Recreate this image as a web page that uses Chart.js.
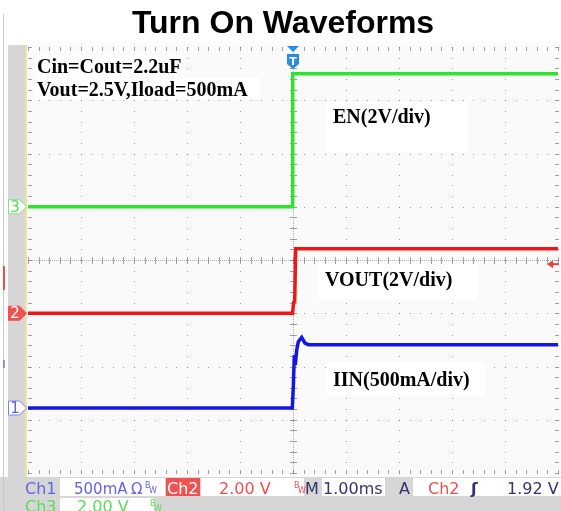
<!DOCTYPE html>
<html>
<head>
<meta charset="utf-8">
<script src="https://cdn.jsdelivr.net/npm/chart.js@4.4.1/dist/chart.umd.min.js"></script>
<style>
  html, body { margin: 0; padding: 0; background: #ffffff; }
  canvas { display: block; }
</style>
</head>
<body>
<canvas id="scope" width="561" height="511"></canvas>
<script>
// Horizontal: 1.00 ms/div, 10 divisions, trigger at centre
const timeRangeMs = [-5, 5];
const verticalDivs = [-4, 4];

// Ch3 - EN (2 V/div)
const enTimeMs = [-5, -0.012, -0.006, 5];
const enVolts  = [0, 0, 5.0, 5.0];

// Ch2 - VOUT (2 V/div)
const voutTimeMs = [-5, -0.008, 0.012, 0.032, 0.05, 5];
const voutVolts  = [0, 0, 0.41, 0.45, 2.42, 2.42];

// Ch1 - IIN (500 mA/div)
const iinTimeMs    = [-5, -0.013, 0.006, 0.025, 0.043, 0.07, 0.1, 0.164, 0.226, 0.29, 5];
const iinMilliamps = [0, 0, 200, 498, 404, 545, 623, 664, 610, 595, 595];

// Ground markers (divisions from centre) and scale per division: Ch1, Ch2, Ch3
const channelOffsetDiv = [-2.78, -1, 1];
const channelPerDiv    = [500, 2, 2];
const triggerLevelVolts = 1.92;

const traceColors = ['rgb(22,22,228)', 'rgb(238,22,22)', 'rgb(44,228,44)'];

function channelAxis(ch) {
  const off = channelOffsetDiv[ch], per = channelPerDiv[ch];
  return { type: 'linear', display: false,
           min: (verticalDivs[0] - off) * per, max: (verticalDivs[1] - off) * per };
}

function pts(xs, ys) { return xs.map((t, i) => ({ x: t, y: ys[i] })); }

const SANS = '"DejaVu Sans", "Liberation Sans", sans-serif';
const SERIF = '"Liberation Serif", "DejaVu Serif", serif';

function drawGrid(chart) {
  const { ctx, chartArea: a, scales } = chart;
  const xs = scales.x, yd = scales.yDiv;
  const px = v => Math.round(xs.getPixelForValue(v));
  const py = v => Math.round(yd.getPixelForValue(v));

  // whole page, left strip, status bar
  ctx.save();
  ctx.fillStyle = '#ffffff';
  ctx.fillRect(0, 0, chart.width, chart.height);
  ctx.fillStyle = '#d6d6d6';
  ctx.fillRect(8, a.top - 2, a.left - 8, chart.height - a.top + 2);
  ctx.fillRect(0, a.bottom + 4, chart.width, chart.height - a.bottom - 4);
  ctx.fillStyle = '#c8c8c8';
  ctx.fillRect(3, 14, 1, chart.height - 14);
  ctx.fillStyle = 'rgba(238,40,40,0.8)';
  ctx.fillRect(3, 266, 2, 24);
  ctx.fillStyle = 'rgba(90,90,230,0.6)';
  ctx.fillRect(3, 360, 2, 8);

  // plot face
  ctx.fillStyle = '#fafafa';
  ctx.fillRect(a.left - 2, a.top - 2, a.right - a.left + 4, a.bottom - a.top + 6);
  ctx.fillStyle = '#f2e2a0';
  ctx.fillRect(a.left - 3, a.top - 2, 2, a.bottom - a.top + 6);

  // dotted graticule: one dot every 0.2 div on each major line
  ctx.fillStyle = 'rgba(100,100,100,0.6)';
  for (let i = -4; i <= 4; i++) {
    if (i === 0) continue;
    const X = px(i);
    for (let k = -20; k <= 20; k++) ctx.fillRect(X, py(k * 0.2), 1, 1);
  }
  for (let j = -3; j <= 3; j++) {
    if (j === 0) continue;
    const Y = py(j);
    for (let k = -25; k <= 25; k++) ctx.fillRect(px(k * 0.2), Y, 1, 1);
  }

  // centre axes with minor ticks
  const cx = px(0), cy = py(0);
  ctx.fillStyle = 'rgba(100,100,100,0.5)';
  for (let X = a.left; X <= a.right; X += 2) ctx.fillRect(X, cy, 1, 1);
  for (let Y = a.top; Y <= a.bottom; Y += 2) ctx.fillRect(cx, Y, 1, 1);
  ctx.fillStyle = 'rgba(100,100,100,0.6)';
  for (let k = -25; k <= 25; k++) ctx.fillRect(px(k * 0.2), cy - 3, 1, 7);
  for (let k = -20; k <= 20; k++) ctx.fillRect(cx - 3, py(k * 0.2), 7, 1);

  // edge ticks
  for (let k = -25; k <= 25; k++) {
    const X = px(k * 0.2);
    ctx.fillRect(X, a.top, 1, 4);
    ctx.fillRect(X, a.bottom - 3, 1, 4);
  }
  for (let k = -20; k <= 20; k++) {
    const Y = py(k * 0.2);
    ctx.fillRect(a.left, Y, 4, 1);
    ctx.fillRect(a.right - 3, Y, 4, 1);
  }
  ctx.restore();
}

function labelBox(ctx, text, x, baseline, box) {
  ctx.fillStyle = '#ffffff';
  ctx.fillRect(box[0], box[1], box[2] - box[0], box[3] - box[1]);
  ctx.fillStyle = '#000000';
  ctx.fillText(text, x, baseline);
}

function channelMarker(ctx, y, label, fill, stroke, textColor) {
  ctx.beginPath();
  ctx.moveTo(8.5, y - 7);
  ctx.lineTo(19.5, y - 7);
  ctx.lineTo(26.5, y);
  ctx.lineTo(19.5, y + 7);
  ctx.lineTo(8.5, y + 7);
  ctx.closePath();
  ctx.fillStyle = fill;
  ctx.fill();
  ctx.strokeStyle = stroke;
  ctx.lineWidth = 1;
  ctx.stroke();
  ctx.fillStyle = textColor;
  ctx.font = '15px ' + SANS;
  ctx.textAlign = 'center';
  ctx.textBaseline = 'middle';
  ctx.fillText(label, 15, y + 1);
  ctx.textAlign = 'left';
  ctx.textBaseline = 'alphabetic';
}

function bwMark(ctx, x, y, color) {
  ctx.fillStyle = color;
  ctx.font = '8px ' + SANS;
  ctx.fillText('B', x, y - 6);
  ctx.fillText('W', x + 4, y - 1);
}

const scopeOverlay = {
  id: 'scopeOverlay',
  beforeDraw(chart) { drawGrid(chart); },
  afterDraw(chart) {
    const { ctx, chartArea: a, scales } = chart;
    ctx.save();

    // title
    ctx.fillStyle = '#000000';
    ctx.font = 'bold 32px "Liberation Sans", Arial, sans-serif';
    ctx.textAlign = 'center';
    ctx.fillText('Turn On Waveforms', 283, 33);
    ctx.textAlign = 'left';

    // annotations
    ctx.font = 'bold 20px ' + SERIF;
    labelBox(ctx, 'Cin=Cout=2.2uF', 37, 73, [35, 55, 184, 77]);
    labelBox(ctx, 'Vout=2.5V,Iload=500mA', 37, 96, [35, 78, 260, 100]);
    labelBox(ctx, 'EN(2V/div)', 333, 123, [326, 102, 468, 152]);
    labelBox(ctx, 'VOUT(2V/div)', 325, 286, [318, 264, 478, 300]);
    labelBox(ctx, 'IIN(500mA/div)', 333, 386, [326, 362, 485, 396]);

    // ground markers
    const y1 = scales.yCh1.getPixelForValue(0);
    const y2 = scales.yCh2.getPixelForValue(0);
    const y3 = scales.yCh3.getPixelForValue(0);
    channelMarker(ctx, y3, '3', '#ffffff', 'rgb(120,230,120)', 'rgb(90,220,90)');
    channelMarker(ctx, y2, '2', 'rgb(240,80,80)', 'rgb(240,80,80)', '#ffffff');
    channelMarker(ctx, y1, '1', '#ffffff', 'rgb(130,130,235)', 'rgb(100,100,230)');

    // trigger position marker
    const tx = scales.x.getPixelForValue(0);
    ctx.fillStyle = 'rgb(40,140,230)';
    ctx.beginPath();
    ctx.moveTo(tx - 6, a.top - 1);
    ctx.lineTo(tx + 6, a.top - 1);
    ctx.lineTo(tx, a.top + 5);
    ctx.closePath();
    ctx.fill();
    ctx.beginPath();
    ctx.moveTo(tx - 6, a.top + 7);
    ctx.lineTo(tx + 6, a.top + 7);
    ctx.lineTo(tx + 6, a.top + 17);
    ctx.lineTo(tx, a.top + 22);
    ctx.lineTo(tx - 6, a.top + 17);
    ctx.closePath();
    ctx.fill();
    ctx.fillStyle = '#ffffff';
    ctx.font = 'bold 11px ' + SANS;
    ctx.textAlign = 'center';
    ctx.fillText('T', tx, a.top + 18);
    ctx.textAlign = 'left';

    // trigger level marker (Ch2)
    const ty = scales.yCh2.getPixelForValue(triggerLevelVolts) + 2;
    ctx.fillStyle = 'rgb(240,60,60)';
    ctx.beginPath();
    ctx.moveTo(a.right - 11, ty);
    ctx.lineTo(a.right - 5, ty - 4);
    ctx.lineTo(a.right - 5, ty + 4);
    ctx.closePath();
    ctx.fill();
    ctx.fillRect(a.right - 6, ty - 1, 7, 2);

    // status bar
    const r1 = 494, r2 = 512;
    ctx.fillStyle = '#ffffff';
    ctx.fillRect(60, 478, 105, 18);
    ctx.fillRect(201, 478, 103, 18);
    ctx.fillRect(322, 478, 63, 18);
    ctx.fillRect(413, 478, 148, 18);
    ctx.fillRect(60, 498, 94, 13);
    ctx.fillStyle = 'rgb(240,82,82)';
    ctx.fillRect(166, 478, 34, 18);

    ctx.font = '16px ' + SANS;
    const ch1c = 'rgb(100,100,225)', ch2c = 'rgb(238,80,80)', ch3c = 'rgb(90,220,90)', navy = 'rgb(50,50,110)';
    ctx.fillStyle = ch1c;
    ctx.fillText('Ch1', 25, r1);
    ctx.font = '15px ' + SANS;
    ctx.fillText('500mA', 74, r1);
    ctx.fillText('\u03A9', 131, r1);
    bwMark(ctx, 145, r1, ch1c);
    ctx.font = '16px ' + SANS;
    ctx.fillStyle = '#ffffff';
    ctx.fillText('Ch2', 167, r1);
    ctx.fillStyle = ch2c;
    ctx.fillText('2.00 V', 219, r1);
    bwMark(ctx, 294, r1, ch2c);
    ctx.font = '16px ' + SANS;
    ctx.fillStyle = navy;
    ctx.fillText('M', 305, r1);
    ctx.fillText('1.00ms', 323, r1);
    ctx.fillText('A', 399, r1);
    ctx.fillStyle = ch2c;
    ctx.fillText('Ch2', 428, r1);
    ctx.fillStyle = navy;
    ctx.font = 'bold 16px ' + SANS;
    ctx.fillText('\u0283', 471, r1);
    ctx.font = '16px ' + SANS;
    ctx.fillText('1.92 V', 507, r1);
    ctx.fillStyle = ch3c;
    ctx.fillText('Ch3', 25, r2);
    ctx.fillText('2.00 V', 77, r2);
    bwMark(ctx, 150, r2, ch3c);

    ctx.restore();
  }
};

new Chart(document.getElementById('scope'), {
  type: 'line',
  data: {
    datasets: [
      { label: 'EN', data: pts(enTimeMs, enVolts), yAxisID: 'yCh3',
        borderColor: traceColors[2], borderWidth: 3.5 },
      { label: 'VOUT', data: pts(voutTimeMs, voutVolts), yAxisID: 'yCh2',
        borderColor: traceColors[1], borderWidth: 3.5 },
      { label: 'IIN', data: pts(iinTimeMs, iinMilliamps), yAxisID: 'yCh1',
        borderColor: traceColors[0], borderWidth: 3.5 }
    ]
  },
  options: {
    responsive: false,
    animation: false,
    events: [],
    layout: { padding: { top: 47, left: 28, right: 3, bottom: 38 } },
    elements: { point: { radius: 0 }, line: { tension: 0, borderJoinStyle: 'miter' } },
    plugins: { legend: { display: false }, title: { display: false }, tooltip: { enabled: false } },
    scales: {
      x: { type: 'linear', display: false, min: timeRangeMs[0], max: timeRangeMs[1] },
      yDiv: { type: 'linear', display: false, min: verticalDivs[0], max: verticalDivs[1] },
      yCh1: channelAxis(0),
      yCh2: channelAxis(1),
      yCh3: channelAxis(2)
    }
  },
  plugins: [scopeOverlay]
});
</script>
</body>
</html>
